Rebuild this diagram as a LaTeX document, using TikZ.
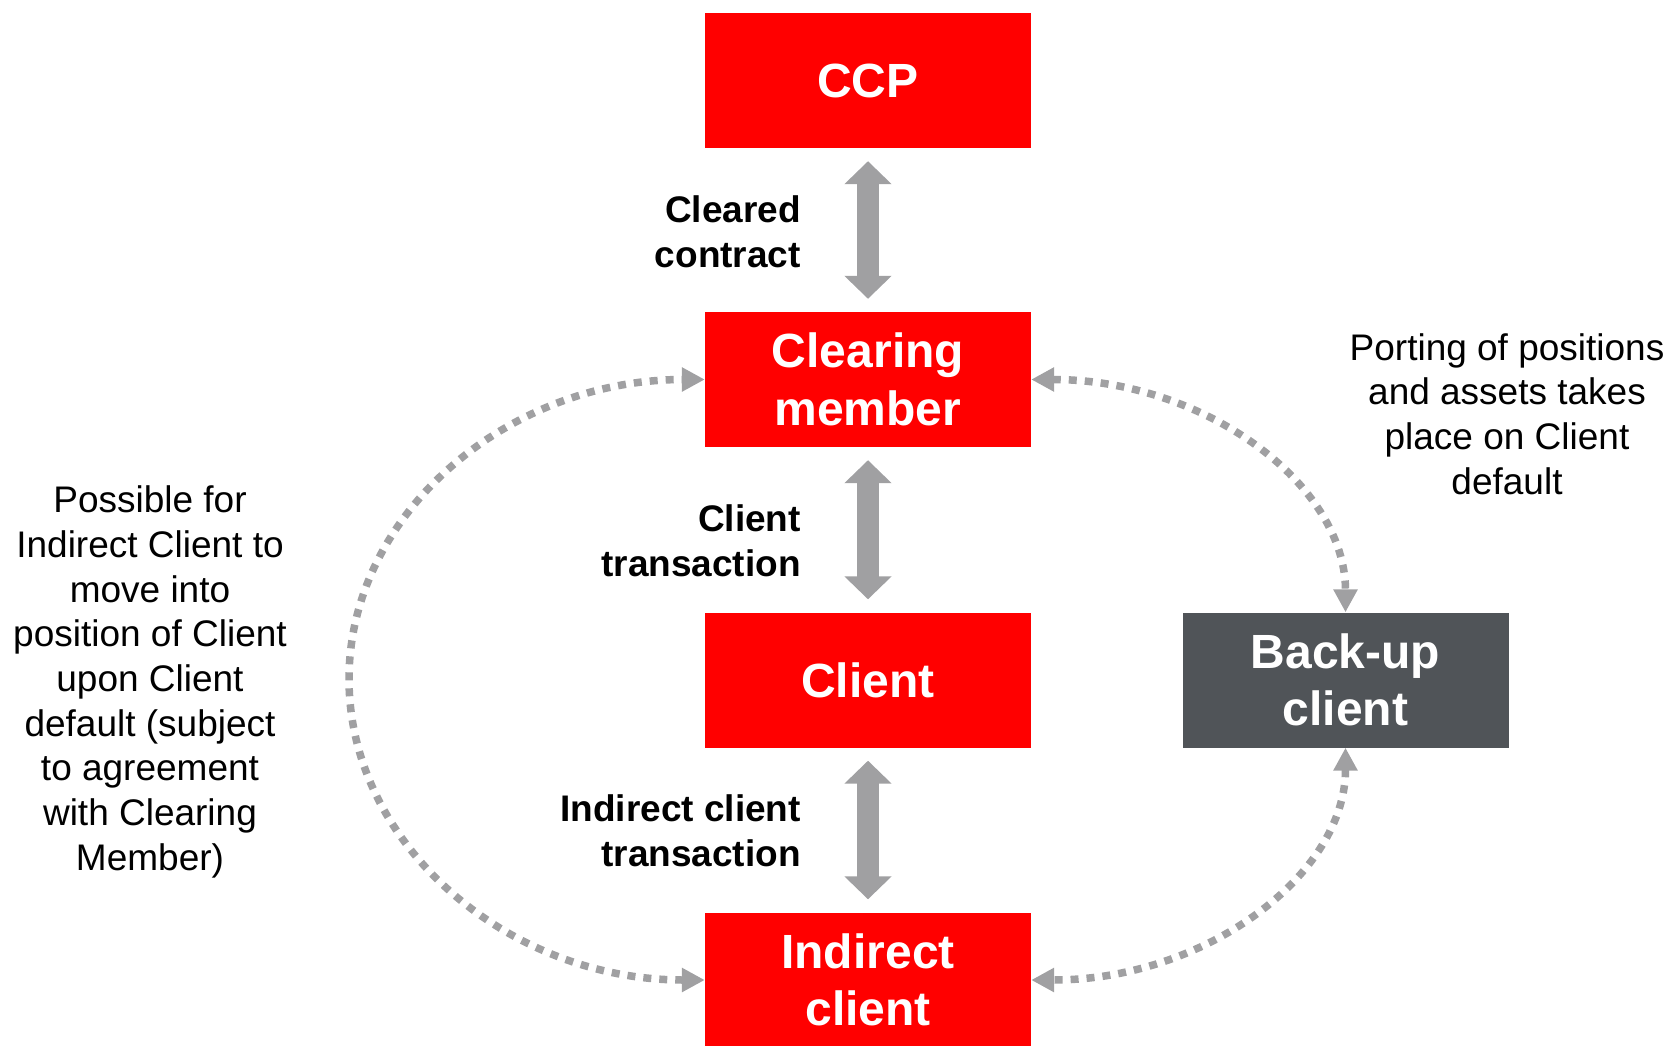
\documentclass[tikz,border=0pt]{standalone}
\usepackage{fontspec}
\setmainfont{Liberation Sans}
\usetikzlibrary{arrows.meta}
\definecolor{ccpred}{HTML}{FF0000}
\definecolor{darkbox}{HTML}{505458}
\definecolor{arrgray}{HTML}{A0A0A2}
\tikzset{
  redbox/.style={fill=ccpred, text=white, minimum width=326pt, minimum height=135pt, inner sep=0pt, align=center, font=\fontsize{48}{57.6}\selectfont\bfseries},
  darkbox/.style={redbox, fill=darkbox},
  bigarrow/.style={draw=arrgray, line width=22pt, {Triangle[length=23pt,width=46pt]}-{Triangle[length=23pt,width=46pt]}, shorten <=13pt, shorten >=13pt},
  dotarrow/.style={draw=arrgray, line width=7.5pt, dash pattern=on 8pt off 8pt, {Triangle[length=23pt,width=23pt]}-{Triangle[length=23pt,width=23pt]}},
  lbl/.style={anchor=east, align=right, inner sep=0pt, font=\fontsize{37}{45}\selectfont\bfseries},
  side/.style={align=center, inner sep=0pt, font=\fontsize{37}{44.7}\selectfont}
}
\begin{document}
\begin{tikzpicture}[x=1pt,y=-1pt]
\useasboundingbox (0,0) rectangle (1670,1046);
\node[redbox] (ccp) at (868,80.5) {CCP};
\node[redbox] (cm) at (868,379.5) {Clearing\\member};
\node[redbox] (cl) at (868,680) {Client};
\node[redbox] (ic) at (868,980) {Indirect\\client};
\node[darkbox] (bu) at (1345.5,680) {Back-up\\client};

\draw[bigarrow] (ccp) -- (cm);
\draw[bigarrow] (cm) -- (cl);
\draw[bigarrow] (cl) -- (ic);

\node[lbl] (l1) at (801,232) {Cleared\\contract};
\node[lbl] (l2) at (801,541) {Client\\transaction};
\node[lbl] (l3) at (801,831) {Indirect client\\transaction};

\coordinate (lm) at (349,679);
\draw[dotarrow] (ic.west) .. controls (508.4,980) and (349,845) .. (lm)
   .. controls (349,513.3) and (508.4,379.5) .. (cm.west);
\draw[dotarrow] (cm.east) .. controls (1204,379.5) and (1345.5,484) .. (bu.north);
\draw[dotarrow] (bu.south) .. controls (1345.5,875) and (1205,980) .. (ic.east);

\node[side] (tl) at (150,682) {Possible for\\Indirect Client to\\move into\\position of Client\\upon Client\\default (subject\\to agreement\\with Clearing\\Member)};
\node[side] (tr) at (1507,414) {Porting of positions\\and assets takes\\place on Client\\default};
\end{tikzpicture}
\end{document}
